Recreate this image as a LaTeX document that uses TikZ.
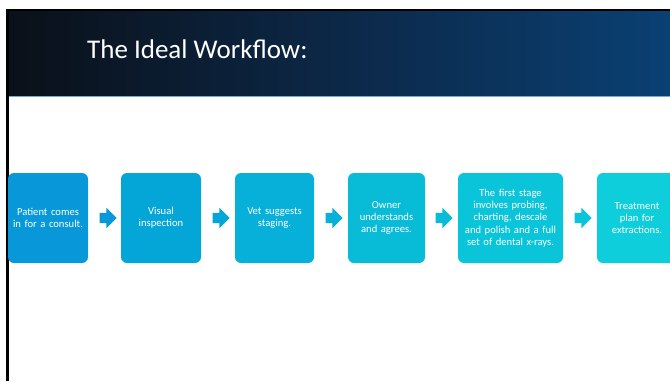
\documentclass[tikz,border=0pt]{standalone}
\usepackage{fontspec}
\setmainfont{Carlito}
\usetikzlibrary{shapes.arrows}
\definecolor{cA}{RGB}{8,152,218}
\definecolor{cB}{RGB}{4,166,216}
\definecolor{cC}{RGB}{6,176,216}
\definecolor{cD}{RGB}{8,188,216}
\definecolor{cE}{RGB}{10,196,218}
\definecolor{cF}{RGB}{14,206,220}
\definecolor{hdrL}{RGB}{10,16,24}
\definecolor{hdrM}{RGB}{12,40,72}
\definecolor{hdrR}{RGB}{10,64,115}
\definecolor{hdrLine}{RGB}{120,170,210}
\tikzset{
  stepbox/.style={rounded corners=6pt, minimum height=90pt, inner sep=2pt,
    text=white, align=center, font=\fontsize{10.6}{12.3}\selectfont},
  flowarrow/.style={single arrow, minimum height=17pt, inner xsep=0pt, inner ysep=5pt,
    single arrow head extend=5pt, single arrow tip angle=90, anchor=center}
}
\begin{document}
\begin{tikzpicture}[x=1pt,y=-1pt]
\useasboundingbox (0,0) rectangle (670,381);
\clip (0,0) rectangle (670,381);
\fill[white] (0,0) rectangle (670,381);
% header
\shade[left color=hdrL, right color=hdrM] (8,10) rectangle (340,96);
\shade[left color=hdrM, right color=hdrR] (339.5,10) rectangle (670,96);
\fill[black] (6,9) rectangle (670,10.5);
\fill[black] (6,9) rectangle (8.5,381);
\fill[hdrLine] (8.5,95.5) rectangle (670,97);
\node[anchor=base west, text=white, font=\fontsize{27}{30}\selectfont, inner sep=0pt] (title) at (87,58) {The Ideal Workflow:};
% boxes
\node[stepbox, fill=cA, minimum width=80pt, text width=76pt] (b1) at (48,218) {Patient comes\\in for a consult.};
\node[stepbox, fill=cB, minimum width=80pt, text width=76pt] (b2) at (161,218) {Visual\\inspection};
\node[stepbox, fill=cC, minimum width=79pt, text width=75pt] (b3) at (274.5,218) {Vet suggests\\staging.};
\node[stepbox, fill=cD, minimum width=77pt, text width=73pt] (b4) at (386.5,218) {Owner\\understands\\and agrees.};
\node[stepbox, fill=cE, minimum width=105pt, text width=101pt] (b5) at (510.5,218) {The first stage\\involves probing,\\charting, descale\\and polish and a full\\set of dental x-rays.};
\node[stepbox, fill=cF, minimum width=80pt, text width=76pt] (b6) at (637,218) {Treatment\\plan for\\extractions.};
% arrows
\node[flowarrow, fill=cA] (a1) at (105.5,218) {};
\node[flowarrow, fill=cB] (a2) at (218.5,218) {};
\node[flowarrow, fill=cC] (a3) at (331.5,218) {};
\node[flowarrow, fill=cD] (a4) at (441.5,218) {};
\node[flowarrow, fill=cE] (a5) at (580.5,218) {};
\end{tikzpicture}
\end{document}
